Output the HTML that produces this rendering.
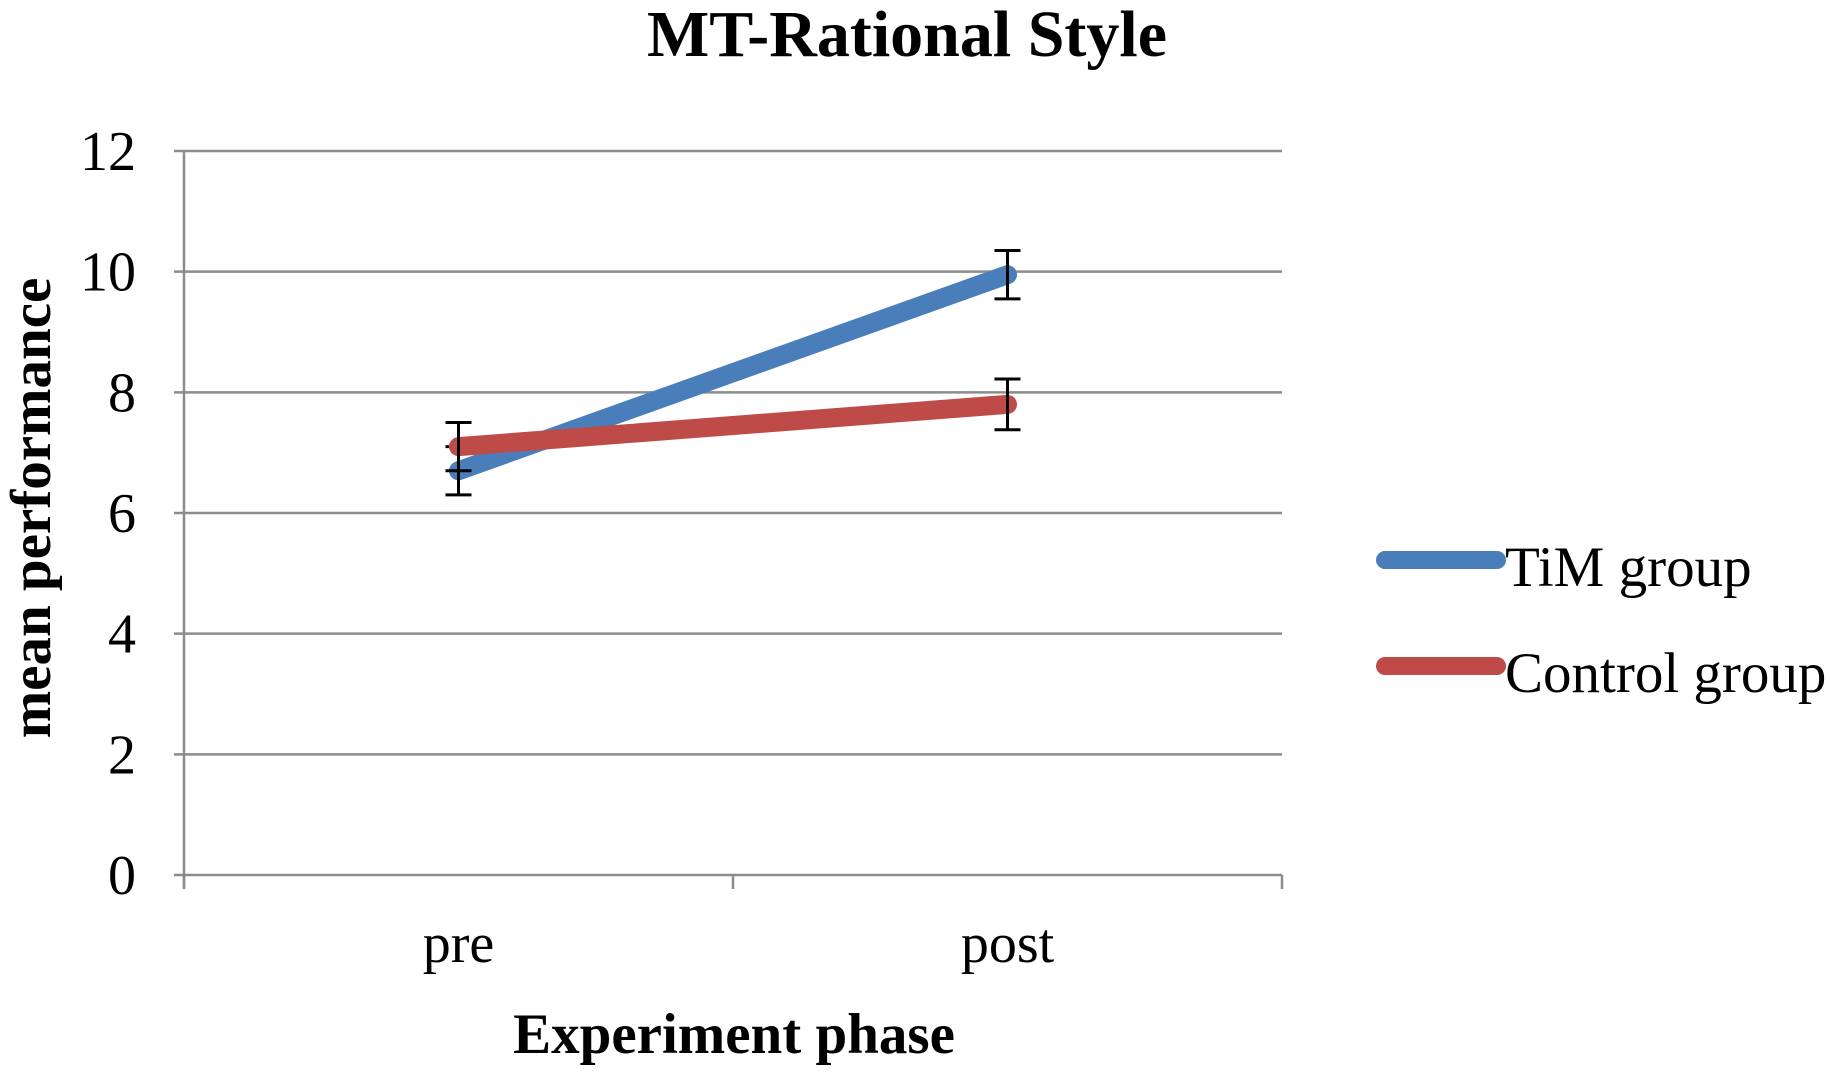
<!DOCTYPE html>
<html><head><meta charset="utf-8"><style>
body{margin:0;background:#fff}
svg{display:block;font-family:"Liberation Serif",serif}
</style></head><body>
<svg id="chart" width="1830" height="1075">
<text x="907" y="56" text-anchor="middle" font-size="66" font-weight="bold">MT-Rational Style</text>
<text transform="translate(50,508) rotate(-90)" text-anchor="middle" font-size="57" font-weight="bold">mean performance</text>
<text x="734" y="1053" text-anchor="middle" font-size="57" font-weight="bold">Experiment phase</text>
<g id="grid"></g><g id="axes"></g><g id="series"></g>
<g>
<line x1="1385" y1="560" x2="1497" y2="560" stroke="#4a7ebb" stroke-width="18" stroke-linecap="round"/>
<text x="1505" y="586" font-size="57">TiM group</text>
<line x1="1385" y1="666" x2="1497" y2="666" stroke="#be4b48" stroke-width="18" stroke-linecap="round"/>
<text x="1505" y="692" font-size="57">Control group</text>
</g>
</svg>
<script>
const categories=["pre","post"];
const yTicks=[0,2,4,6,8,10,12];
const timValues=[6.7,9.95];
const timErrors=[0.4,0.4];
const controlValues=[7.1,7.8];
const controlErrors=[0.4,0.42];
const NS="http://www.w3.org/2000/svg";
const L=184,R=1282,T=151,B=875;
function y(v){return B-(v/12)*(B-T);}
function x(i){return L+(i+0.5)*(R-L)/categories.length;}
function mk(tag,attrs,parent){const e=document.createElementNS(NS,tag);for(const k in attrs)e.setAttribute(k,attrs[k]);parent.appendChild(e);return e;}
const grid=document.getElementById('grid'),axes=document.getElementById('axes'),ser=document.getElementById('series');
yTicks.forEach(t=>{
 const g=mk('line',{x1:L-10,x2:R,y1:y(t),y2:y(t),stroke:'#8c8c8c','stroke-width':2.5},grid);
 
 
 const tx=mk('text',{x:136,y:y(t)+19,'text-anchor':'end','font-size':56},axes);
 tx.textContent=t;
 
 
});
const ya=mk('line',{x1:L,x2:L,y1:T,y2:B+12,stroke:'#8c8c8c','stroke-width':2.5},axes);


for(let i=0;i<=categories.length;i++){
 const tk=mk('line',{x1:L+i*(R-L)/categories.length,x2:L+i*(R-L)/categories.length,y1:B,y2:B+14,stroke:'#8c8c8c','stroke-width':2.5},axes);
 
 
}
categories.forEach((c,i)=>{
 const tx=mk('text',{x:x(i),y:962,'text-anchor':'middle','font-size':56},axes);
 tx.textContent=c;
 
 
});
function series(vals,errs,color,name){
 const pl=mk('polyline',{points:vals.map((v,i)=>x(i)+','+y(v)).join(' '),fill:'none',stroke:color,'stroke-width':19,'stroke-linecap':'round'},ser);
 
 
 vals.forEach((v,i)=>{
  const g=mk('g',{stroke:'#000','stroke-width':3},ser);
  
  
  const cx=x(i);
  mk('line',{x1:cx,x2:cx,y1:y(v-errs[i]),y2:y(v+errs[i])},g);
  mk('line',{x1:cx-13,x2:cx+13,y1:y(v-errs[i]),y2:y(v-errs[i])},g);
  mk('line',{x1:cx-13,x2:cx+13,y1:y(v+errs[i]),y2:y(v+errs[i])},g);
 });
}
series(timValues,timErrors,'#4a7ebb','tim');
series(controlValues,controlErrors,'#be4b48','control');
</script>
</body></html>
